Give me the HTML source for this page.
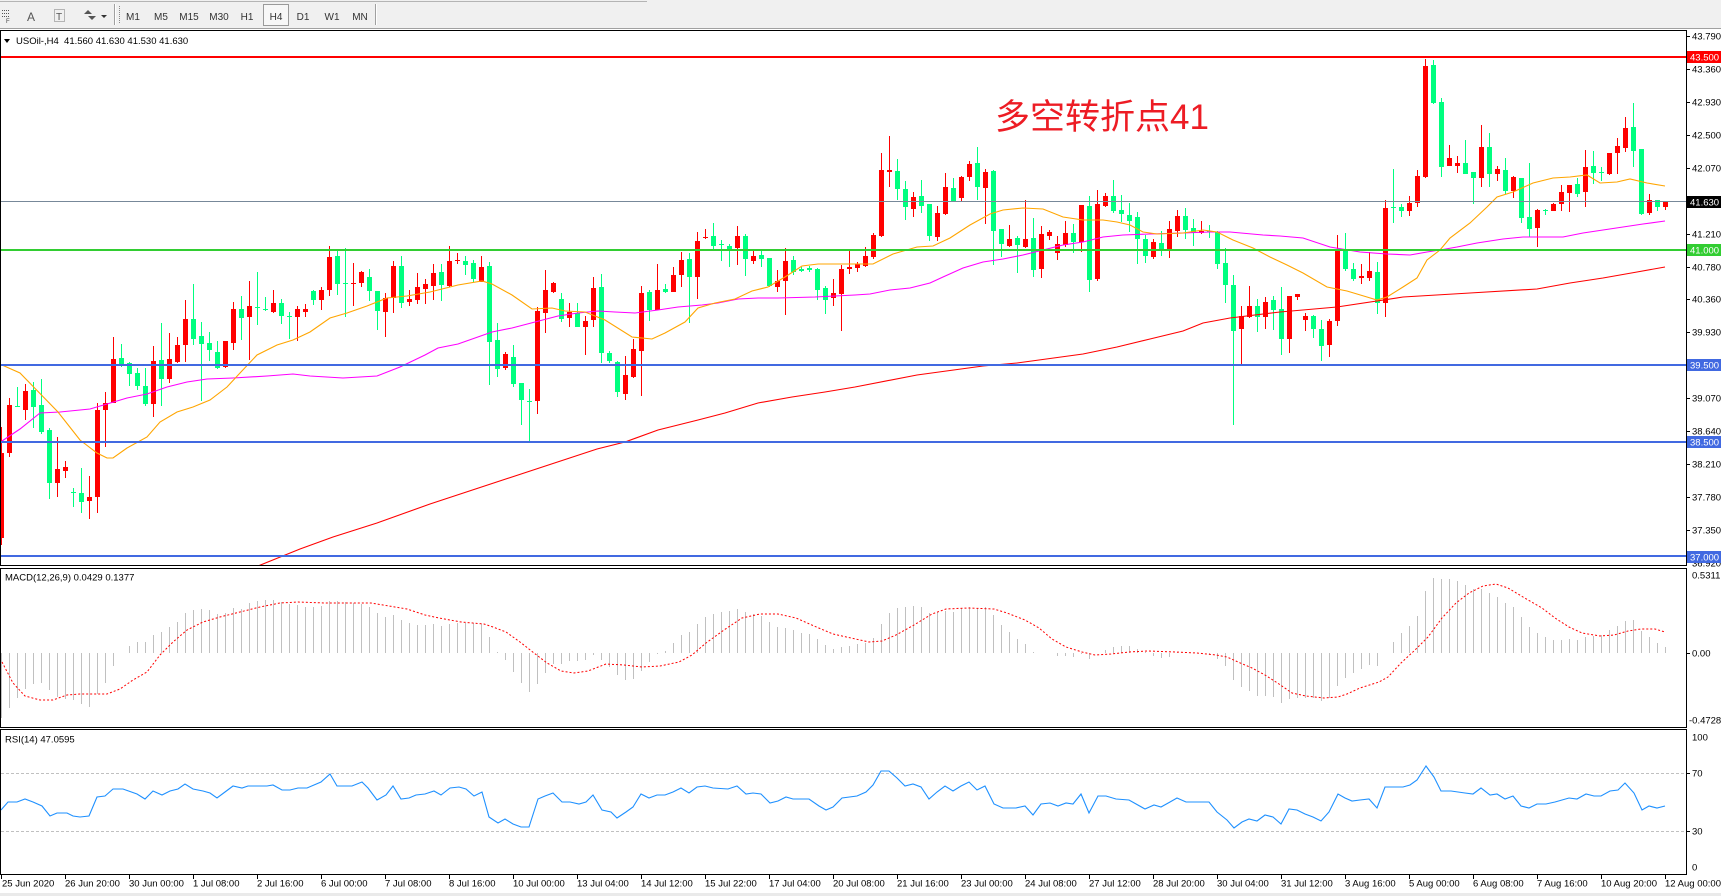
<!DOCTYPE html>
<html><head><meta charset="utf-8">
<style>
html,body{margin:0;padding:0;background:#fff;width:1721px;height:896px;overflow:hidden}
svg{position:absolute;left:0;top:0;font-family:"Liberation Sans","DejaVu Sans",sans-serif}
.t{font-size:9.5px;fill:#000}
.w{font-size:9.5px;fill:#fff}
.tb{font-size:10px;fill:#333}
</style></head><body>
<svg id="s" width="1721" height="896" viewBox="0 0 1721 896" xmlns="http://www.w3.org/2000/svg">
<defs>
<clipPath id="mc"><rect x="1" y="31" width="1685" height="534"/></clipPath>
<clipPath id="dc"><rect x="1" y="569" width="1685" height="158"/></clipPath>
<clipPath id="rc"><rect x="1" y="730" width="1685" height="144"/></clipPath>
</defs>
<rect width="1721" height="896" fill="#fff"/>
<rect x="0" y="0" width="1721" height="29" fill="#F0F0F0"/>
<line x1="0" y1="1.5" x2="647" y2="1.5" stroke="#B4B4B4"/>
<line x1="0" y1="28.5" x2="1721" y2="28.5" stroke="#A0A0A0"/>
<g stroke="#555" stroke-dasharray="1,1">
<line x1="2" y1="10.5" x2="10" y2="10.5"/><line x1="2" y1="13.5" x2="10" y2="13.5"/><line x1="2" y1="16.5" x2="10" y2="16.5"/>
</g>
<text x="6" y="23" font-size="6" fill="#444">F</text>
<text x="27" y="21" font-size="12" fill="#555">A</text>
<rect x="54.5" y="9.5" width="10" height="12" fill="none" stroke="#777" stroke-dasharray="1,1"/>
<text x="56" y="20" font-size="10" fill="#555">T</text>
<polygon points="84,14 88,10 92,14" fill="#555"/><polygon points="88,16 92,20 96,16" fill="#555"/>
<polygon points="101,15 107,15 104,18" fill="#333"/>
<line x1="114.5" y1="4" x2="114.5" y2="25" stroke="#A0A0A0"/><line x1="115.5" y1="4" x2="115.5" y2="25" stroke="#fff"/>
<line x1="119.5" y1="6" x2="119.5" y2="24" stroke="#888" stroke-dasharray="1,1"/>
<rect x="263.5" y="4.5" width="25" height="21" fill="#F7F7F7" stroke="#9A9A9A"/>
<g class="tb" text-anchor="middle">
<text x="133" y="20">M1</text><text x="161" y="20">M5</text><text x="189" y="20">M15</text><text x="219" y="20">M30</text>
<text x="247" y="20">H1</text><text x="276" y="20">H4</text><text x="303" y="20">D1</text><text x="332" y="20">W1</text><text x="360" y="20">MN</text>
</g>
<line x1="375.5" y1="4" x2="375.5" y2="25" stroke="#A0A0A0"/><line x1="376.5" y1="4" x2="376.5" y2="25" stroke="#fff"/>
<g clip-path="url(#mc)">
<g id="cd" shape-rendering="crispEdges"></g>
<polyline id="ma200" fill="none" stroke="#FF0000" stroke-width="1.1"/>
<polyline id="ma50" fill="none" stroke="#FF00FF" stroke-width="1.1"/>
<polyline id="ma20" fill="none" stroke="#FFA500" stroke-width="1.1"/>
<g shape-rendering="crispEdges">
<rect x="1" y="56" width="1685" height="2" fill="#FF0000"/>
<rect x="1" y="201" width="1685" height="1" fill="#778899"/>
<rect x="1" y="249" width="1685" height="2" fill="#32CD32"/>
<rect x="1" y="364" width="1685" height="2" fill="#4169E1"/>
<rect x="1" y="441" width="1685" height="2" fill="#4169E1"/>
<rect x="1" y="555" width="1685" height="2" fill="#4169E1"/>
</g>
</g>
<polygon points="4,39 10,39 7,43" fill="#000"/>
<text class="t" x="16" y="44">USOil-,H4&#160; 41.560 41.630 41.530 41.630</text>
<text x="995" y="129" font-size="35" fill="#ED1C24" font-family="'Liberation Sans','Noto Sans CJK SC',sans-serif">多空转折点41</text>
<g clip-path="url(#dc)">
<g id="hist" shape-rendering="crispEdges"></g>
<polyline id="sig" fill="none" stroke="#FF0000" stroke-width="1" stroke-dasharray="2,2"/>
</g>
<text class="t" x="5" y="580.5">MACD(12,26,9) 0.0429 0.1377</text>
<g clip-path="url(#rc)">
<line x1="1" y1="773.5" x2="1686" y2="773.5" stroke="#C0C0C0" stroke-dasharray="3,2"/>
<line x1="1" y1="831.5" x2="1686" y2="831.5" stroke="#C0C0C0" stroke-dasharray="3,2"/>
<polyline id="rsi" fill="none" stroke="#1E90FF" stroke-width="1.1"/>
</g>
<text class="t" x="5" y="742.5">RSI(14) 47.0595</text>
<g fill="none" stroke="#000" shape-rendering="crispEdges">
<rect x="0.5" y="30.5" width="1686" height="535"/>
<rect x="0.5" y="568.5" width="1686" height="159"/>
<rect x="0.5" y="729.5" width="1686" height="145"/>
</g>
<g id="ticks" stroke="#000" shape-rendering="crispEdges"></g>
<g class="t">
<text x="1692" y="39.5">43.790</text>
<text x="1692" y="72.5">43.360</text>
<text x="1692" y="105.5">42.930</text>
<text x="1692" y="138.5">42.500</text>
<text x="1692" y="171.5">42.070</text>
<text x="1692" y="237.5">41.210</text>
<text x="1692" y="270.5">40.780</text>
<text x="1692" y="302.5">40.360</text>
<text x="1692" y="335.5">39.930</text>
<text x="1692" y="401.5">39.070</text>
<text x="1692" y="434.5">38.640</text>
<text x="1692" y="467.5">38.210</text>
<text x="1692" y="500.5">37.780</text>
<text x="1692" y="533.5">37.350</text>
<text x="1692" y="566.5">36.920</text>
</g>
<g shape-rendering="crispEdges">
<rect x="1687" y="51" width="34" height="12" fill="#FF0000"/>
<rect x="1687" y="196" width="34" height="12" fill="#000"/>
<rect x="1687" y="244" width="34" height="12" fill="#32CD32"/>
<rect x="1687" y="359" width="34" height="12" fill="#4169E1"/>
<rect x="1687" y="436" width="34" height="12" fill="#4169E1"/>
<rect x="1687" y="551" width="34" height="12" fill="#4169E1"/>
</g>
<g class="w">
<text x="1690" y="60.5">43.500</text>
<text x="1690" y="205.5">41.630</text>
<text x="1690" y="253.5">41.000</text>
<text x="1690" y="368.5">39.500</text>
<text x="1690" y="445.5">38.500</text>
<text x="1690" y="560.5">37.000</text>
</g>
<g class="t">
<text x="1692" y="578.5">0.5311</text>
<text x="1692" y="656.5">0.00</text>
<text x="1689" y="723.5">-0.4728</text>
<text x="1692" y="740.5">100</text>
<text x="1692" y="776.5">70</text>
<text x="1692" y="834.5">30</text>
<text x="1692" y="870.5">0</text>
</g>
<g id="xt" stroke="#000" shape-rendering="crispEdges"></g>
<g class="t">
<text x="2" y="886.5">25 Jun 2020</text>
<text x="65" y="886.5">26 Jun 20:00</text>
<text x="129" y="886.5">30 Jun 00:00</text>
<text x="193" y="886.5">1 Jul 08:00</text>
<text x="257" y="886.5">2 Jul 16:00</text>
<text x="321" y="886.5">6 Jul 00:00</text>
<text x="385" y="886.5">7 Jul 08:00</text>
<text x="449" y="886.5">8 Jul 16:00</text>
<text x="513" y="886.5">10 Jul 00:00</text>
<text x="577" y="886.5">13 Jul 04:00</text>
<text x="641" y="886.5">14 Jul 12:00</text>
<text x="705" y="886.5">15 Jul 22:00</text>
<text x="769" y="886.5">17 Jul 04:00</text>
<text x="833" y="886.5">20 Jul 08:00</text>
<text x="897" y="886.5">21 Jul 16:00</text>
<text x="961" y="886.5">23 Jul 00:00</text>
<text x="1025" y="886.5">24 Jul 08:00</text>
<text x="1089" y="886.5">27 Jul 12:00</text>
<text x="1153" y="886.5">28 Jul 20:00</text>
<text x="1217" y="886.5">30 Jul 04:00</text>
<text x="1281" y="886.5">31 Jul 12:00</text>
<text x="1345" y="886.5">3 Aug 16:00</text>
<text x="1409" y="886.5">5 Aug 00:00</text>
<text x="1473" y="886.5">6 Aug 08:00</text>
<text x="1537" y="886.5">7 Aug 16:00</text>
<text x="1601" y="886.5">10 Aug 20:00</text>
<text x="1665" y="886.5">12 Aug 00:00</text>
</g>
<rect x="0" y="893" width="1721" height="3" fill="#EAEAEA"/>
</svg>
<script>
(function(){
var K="1,453,538,427,545;1,405,453,398,457;0,406,407,387,407;1,391,410,384,420;0,390,407,382,428;0,405,432,379,434;0,430,483,428,499;1,469,483,437,497;1,467,471,461,478;0,492,492,488,507;0,493,502,468,513;1,497,501,476,519;1,410,497,403,513;1,403,410,392,447;1,359,403,337,403;0,358,365,344,367;0,363,374,362,386;0,373,386,368,390;0,386,404,368,406;1,361,404,346,417;0,360,379,323,406;1,359,379,333,383;1,345,362,337,363;1,319,345,300,362;0,319,339,284,345;0,336,344,322,401;0,343,350,332,361;0,352,368,341,369;1,341,367,341,368;1,309,343,302,350;0,309,318,296,340;1,306,317,281,360;0,307,307,272,325;0,309,309,297,311;1,303,312,290,313;0,303,316,299,324;0,316,316,312,339;1,309,317,306,341;1,309,312,304,317;0,291,300,290,305;1,290,300,287,310;1,257,290,246,296;0,256,284,251,295;0,283,283,248,317;1,283,283,263,306;1,272,283,271,287;0,277,291,269,301;0,291,311,291,330;1,298,312,293,337;1,266,298,261,313;0,266,303,256,308;1,299,302,290,306;1,287,300,273,304;1,284,289,279,304;1,273,286,264,300;0,272,285,264,301;1,261,286,246,287;1,260,260,253,264;0,261,265,256,275;0,263,279,260,282;1,267,282,256,282;0,266,342,262,385;0,340,369,323,377;1,354,368,352,370;0,357,384,345,387;0,383,400,383,425;0,401,401,389,442;1,311,401,307,414;1,290,313,270,333;1,283,292,282,293;0,299,319,293,322;1,312,318,303,327;0,313,327,303,327;1,321,327,316,355;1,288,320,277,327;0,287,353,274,363;0,353,361,351,363;0,362,392,361,397;1,375,394,356,400;1,349,377,339,378;1,293,351,286,396;0,292,310,290,321;1,290,310,264,310;0,289,292,284,293;1,275,292,267,292;1,260,275,252,287;0,259,277,253,323;1,241,277,232,299;1,237,237,229,239;0,236,246,223,250;0,244,244,240,261;0,246,250,244,267;1,236,248,226,265;0,236,259,234,276;1,256,261,251,264;0,255,259,251,267;0,258,286,258,287;1,281,287,270,292;1,261,281,248,315;0,260,272,256,275;0,269,271,267,272;0,268,270,266,272;0,269,290,268,300;0,288,300,286,314;1,293,298,279,306;1,269,294,265,331;1,267,269,251,274;1,264,268,262,272;1,256,266,247,267;1,235,257,233,259;1,170,236,153,237;1,170,172,136,187;0,171,189,159,200;0,189,207,181,220;1,197,209,192,217;0,196,206,180,213;0,204,236,204,241;1,213,237,206,241;1,187,214,173,215;0,188,201,178,201;1,177,198,176,201;1,164,177,161,181;0,163,187,147,200;1,172,188,169,224;0,171,231,170,265;0,229,244,229,257;1,239,246,225,247;0,238,245,236,273;1,239,247,200,248;0,238,270,218,277;1,234,269,226,278;1,232,236,230,240;1,244,253,236,260;1,233,245,221,247;0,233,242,224,253;1,205,242,205,252;0,206,280,196,292;1,204,279,190,281;1,196,206,193,207;0,196,211,180,213;0,210,214,195,222;0,215,221,203,232;0,217,239,212,264;0,239,256,235,263;1,242,257,239,259;0,243,250,231,256;1,229,249,221,258;1,216,231,210,237;0,216,230,208,239;0,228,233,219,246;1,231,233,221,234;0,231,231,225,238;0,232,264,231,269;0,263,285,248,303;0,285,331,275,425;1,316,329,306,364;1,306,317,286,318;0,306,317,299,332;1,302,317,297,329;0,300,310,296,330;0,309,339,287,355;1,296,339,296,353;1,294,297,294,300;1,316,320,313,331;0,316,329,315,338;0,329,346,320,361;1,321,345,319,357;1,250,321,235,326;0,249,269,233,271;0,269,279,263,281;1,276,278,264,284;1,271,278,252,281;0,272,303,262,314;1,208,303,200,317;0,207,207,169,223;0,207,211,204,217;1,203,211,196,216;1,176,203,170,207;1,66,177,59,178;0,65,103,60,104;0,102,167,98,177;1,158,166,145,166;1,163,166,156,173;0,163,174,140,174;0,172,178,172,204;1,147,178,125,187;0,147,174,133,187;1,169,174,166,181;0,170,191,158,194;1,177,191,176,198;0,178,218,178,223;0,217,229,163,237;1,210,228,209,247;0,210,210,209,215;1,204,211,203,211;1,192,204,185,211;1,185,193,185,212;0,184,194,178,197;1,167,192,150,207;0,166,173,151,184;0,172,172,167,181;1,153,174,153,175;1,146,153,138,174;1,128,148,117,152;0,127,151,103,167;0,149,214,149,215;1,200,213,194,215;0,200,207,200,211;1,201,207,201,210".split(';').map(function(l){return l.split(',').map(Number);});
var s='';
K.forEach(function(k,i){var cx=1+8*i;var col=k[0]?'#FF0000':'#00FF7F';
s+='<rect x="'+cx+'" y="'+k[3]+'" width="1" height="'+Math.max(1,k[4]-k[3])+'" fill="'+col+'"/>';
s+='<rect x="'+(cx-2)+'" y="'+k[1]+'" width="5" height="'+Math.max(1,k[2]-k[1])+'" fill="'+col+'"/>';});
document.getElementById('cd').innerHTML=s;
var H=[718,708,698,689,684,683,690,697,699,700,704,707,694,683,666,653,646,642,642,635,632,627,622,613,610,609,610,614,613,608,609,603,601,600,600,602,604,605,607,607,606,601,601,602,603,604,607,613,617,615,620,623,625,625,624,626,624,623,623,623,624,637,652,660,672,683,692,684,673,664,664,661,661,660,655,660,667,675,680,679,671,662,654,651,643,635,632,624,617,614,612,611,609,612,614,616,622,627,628,630,633,634,639,645,649,647,646,644,643,638,624,613,608,607,606,607,613,612,611,612,608,607,608,607,615,625,632,639,644,652,653,653,656,656,657,654,659,653,650,647,646,646,649,652,656,658,657,652,652,653,654,655,659,666,680,687,691,696,696,697,703,699,698,698,698,701,698,686,678,673,669,665,666,653,642,633,626,616,591,578,579,579,581,585,589,589,593,597,603,607,617,627,633,637,640,640,639,640,637,636,635,630,626,621,620,631,637,643,647];
var z=653,h='';
H.forEach(function(v,i){var cx=1+8*i;var a=Math.min(v,z),b=Math.max(v,z);if(b-a<1)return;
h+='<rect x="'+cx+'" y="'+a+'" width="1" height="'+(b-a)+'" fill="#C0C0C0"/>';});
document.getElementById('hist').innerHTML=h;
function P(id,str){document.getElementById(id).setAttribute('points',str);}
P('sig',"2,662 13,683 25,696 40,700 53,700 67,695 80,694 107,694 120,689 133,680 147,672 160,655 173,642 187,630 203,622 220,617 240,612 260,607 280,603 298,602 325,603 371,603 389,606 407,609 425,615 439,618 461,622 484,624 493,627 506,632 520,642 534,653 547,663 561,671 574,673 588,671 606,664 624,665 642,667 660,666 679,662 692,655 706,643 724,630 742,618 760,614 778,614 796,618 814,626 833,634 851,638 869,642 882,641 896,635 914,625 932,614 946,609 968,608 994,609 1007,613 1025,620 1039,628 1052,639 1066,647 1082,652 1095,655 1111,654 1129,652 1148,651 1175,652 1197,653 1216,655 1227,657 1238,662 1252,668 1265,675 1279,684 1292,693 1306,696 1324,698 1338,697 1347,694 1360,688 1379,682 1388,677 1401,663 1415,650 1428,637 1442,618 1456,603 1469,593 1483,586 1496,584 1508,588 1523,597 1542,608 1555,618 1569,627 1582,633 1600,636 1614,635 1628,631 1641,629 1655,629 1665,632");
P('rsi',"1,810 8,802 17,802 25,799 33,802 42,806 50,816 57,813 67,813 73,816 80,817 89,816 97,797 105,796 113,789 123,789 137,794 145,799 153,791 162,795 170,791 178,789 185,784 193,789 203,791 210,793 217,798 225,792 233,786 242,788 248,786 267,786 273,785 282,790 290,790 298,788 307,788 321,782 330,774 337,786 352,786 362,782 368,788 377,800 386,795 393,786 401,799 409,798 416,795 425,794 434,791 441,795 450,788 459,787 466,789 474,796 482,792 489,817 498,823 505,819 513,824 521,827 529,827 538,799 545,796 553,793 562,802 570,802 579,804 586,802 593,795 602,810 611,812 617,818 626,812 633,807 641,794 649,798 657,795 665,795 673,792 681,788 689,793 697,787 705,786 713,788 728,789 737,786 746,794 753,793 761,794 770,803 778,801 786,797 793,799 809,799 819,806 826,810 833,807 842,798 857,796 866,792 873,785 881,771 889,771 897,778 905,786 913,784 921,787 929,799 937,792 945,786 953,791 961,786 969,782 977,790 985,786 994,804 1003,808 1016,808 1025,806 1033,815 1041,804 1050,803 1058,806 1066,803 1073,804 1081,794 1089,813 1098,796 1106,796 1116,799 1129,800 1145,809 1154,805 1161,807 1170,802 1177,798 1186,802 1195,802 1209,802 1217,812 1227,820 1234,828 1242,822 1249,819 1257,821 1265,815 1273,817 1281,824 1289,809 1297,810 1305,814 1313,817 1321,821 1329,812 1338,794 1345,798 1352,801 1360,800 1369,799 1377,808 1385,787 1403,787 1410,785 1417,780 1426,766 1434,777 1441,791 1451,791 1465,793 1473,794 1481,788 1490,795 1497,794 1505,799 1513,796 1521,806 1529,808 1537,804 1546,804 1555,802 1569,798 1577,799 1586,794 1594,796 1601,796 1610,791 1618,790 1625,783 1634,793 1642,810 1649,806 1657,808 1665,806");
P('ma20',"2,365 20,373 58,412 80,440 97,453 107,458 113,458 127,448 147,437 160,422 177,412 193,407 210,400 227,387 240,373 257,355 277,345 293,340 310,332 330,318 347,313 367,306 387,298 407,296 430,292 458,285 482,281 492,284 512,295 532,309 552,308 565,311 585,312 605,320 632,337 652,339 665,333 685,322 698,308 715,303 735,299 752,291 768,287 785,277 802,266 818,264 873,264 893,254 917,247 933,246 950,238 970,225 990,214 1003,210 1023,208 1043,209 1063,217 1083,220 1103,220 1117,222 1130,225 1143,232 1157,234 1183,233 1203,230 1217,232 1233,240 1253,248 1270,257 1287,265 1303,273 1327,287 1347,291 1367,297 1377,300 1387,297 1403,287 1417,278 1427,260 1440,250 1450,238 1470,223 1487,207 1497,197 1513,192 1533,183 1553,178 1570,177 1587,175 1600,183 1617,182 1630,179 1647,183 1665,186");
P('ma50',"2,441 20,429 40,413 60,412 90,409 107,404 127,398 147,394 167,387 187,382 207,379 233,378 267,376 293,374 310,376 343,378 377,376 400,367 425,355 438,348 458,344 475,338 492,332 512,328 535,322 558,316 578,313 598,311 615,312 635,313 658,310 678,307 702,305 718,303 738,299 758,298 778,298 815,297 855,295 870,294 890,290 910,288 930,283 943,277 963,268 983,262 1003,259 1023,255 1043,250 1063,245 1083,242 1103,237 1123,235 1150,234 1183,233 1210,232 1230,232 1263,235 1280,236 1303,238 1330,247 1360,252 1387,254 1410,255 1427,252 1440,250 1457,247 1477,243 1503,239 1523,237 1563,237 1583,233 1603,230 1623,227 1643,224 1665,221");
P('ma200',"258,566 300,549 333,537 377,523 430,504 597,449 625,442 658,430 698,420 725,413 758,403 792,397 825,392 855,387 917,375 983,366 1017,363 1083,354 1117,347 1150,339 1183,331 1203,323 1230,318 1280,312 1337,307 1403,297 1470,293 1537,289 1570,283 1603,278 1637,272 1665,267");
var ty=[36,69,102,135,168,234,267,299,332,398,431,464,497,530,653,773,831],t='';
ty.forEach(function(y){t+='<line x1="1687" y1="'+(y+0.5)+'" x2="1690" y2="'+(y+0.5)+'"/>';});
document.getElementById('ticks').innerHTML=t;
var x='';for(var k=0;k<27;k++){var xx=1+64*k;x+='<line x1="'+(xx+0.5)+'" y1="875" x2="'+(xx+0.5)+'" y2="879"/>';}
document.getElementById('xt').innerHTML=x;
})();
</script>
</body></html>
